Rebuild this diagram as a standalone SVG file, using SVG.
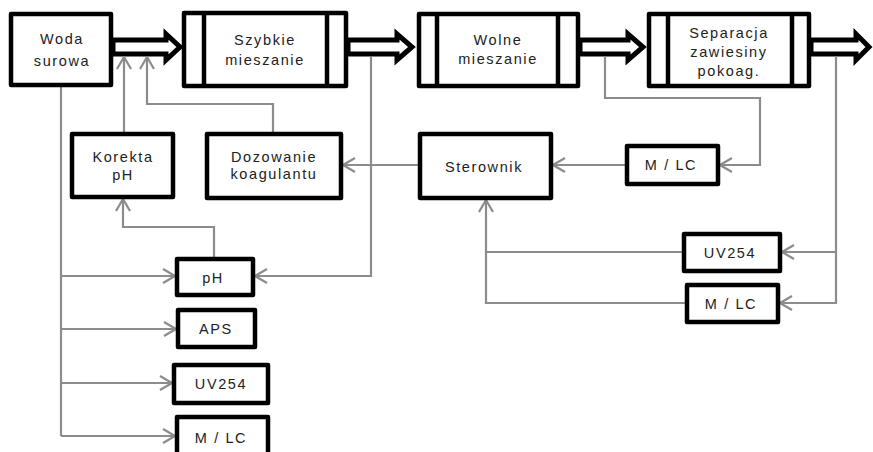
<svg xmlns="http://www.w3.org/2000/svg" width="873" height="452" viewBox="0 0 873 452">
<style>
.box{fill:#fff;stroke:#000;stroke-width:4.5;stroke-linejoin:round}
.bar{stroke:#000;stroke-width:4.5}
.big{fill:#fff;stroke:#000;stroke-width:5;stroke-linejoin:miter;stroke-miterlimit:10}
.t{font-family:"Liberation Sans",Arial,sans-serif;font-size:14.5px;letter-spacing:1.6px;fill:#222;text-anchor:middle}
.c{fill:none;stroke:#8c8c8c;stroke-width:2.2}
</style>
<defs>
<marker id="ah" viewBox="0 0 14 16" refX="13" refY="8" markerWidth="14" markerHeight="16" markerUnits="userSpaceOnUse" orient="auto">
<path d="M1,1 L13,8 L1,15" fill="none" stroke="#8c8c8c" stroke-width="2.2"/>
</marker>
</defs>
<rect width="873" height="452" fill="#fff"/>

<g id="main-arrows">
<polygon class="big" points="113,40 166,40 166,34 180,47 166,60 166,54 113,54"/>
<polygon class="big" points="348,40 397,40 397,34 412,47 397,60 397,54 348,54"/>
<polygon class="big" points="580,40 628,40 628,34 643,47 628,60 628,54 580,54"/>
<polygon class="big" points="811,40 856,40 856,34 869,47 856,60 856,54 811,54"/>
</g>

<g id="connectors">
<path class="c" d="M61,87 V436"/>
<path class="c" d="M61,276 H175" marker-end="url(#ah)"/>
<path class="c" d="M61,329 H176" marker-end="url(#ah)"/>
<path class="c" d="M61,383 H172" marker-end="url(#ah)"/>
<path class="c" d="M61,436 H175" marker-end="url(#ah)"/>
<path class="c" d="M124,132 V57" marker-end="url(#ah)"/>
<path class="c" d="M273,132 V104 H147 V57" marker-end="url(#ah)"/>
<path class="c" d="M214,257 V227 H123 V199" marker-end="url(#ah)"/>
<path class="c" d="M371,57 V276 H255" marker-end="url(#ah)"/>
<path class="c" d="M418,165 H343" marker-end="url(#ah)"/>
<path class="c" d="M625,165 H553" marker-end="url(#ah)"/>
<path class="c" d="M605,56 V98 H760 V165 H720" marker-end="url(#ah)"/>
<path class="c" d="M836,56 V303 H780" marker-end="url(#ah)"/>
<path class="c" d="M836,252 H782" marker-end="url(#ah)"/>
<path class="c" d="M682,252 H486"/>
<path class="c" d="M685,303 H486 V200" marker-end="url(#ah)"/>
</g>

<g id="woda">
<rect class="box" x="11" y="14" width="100" height="71"/>
<text class="t" x="62" y="44">Woda</text>
<text class="t" x="62" y="66">surowa</text>
</g>
<g id="szybkie">
<rect class="box" x="184" y="13" width="162" height="73"/>
<line class="bar" x1="204" y1="13" x2="204" y2="86"/>
<line class="bar" x1="327" y1="13" x2="327" y2="86"/>
<text class="t" x="265" y="45">Szybkie</text>
<text class="t" x="265" y="65">mieszanie</text>
</g>
<g id="wolne">
<rect class="box" x="419" y="14" width="159" height="72"/>
<line class="bar" x1="437" y1="14" x2="437" y2="86"/>
<line class="bar" x1="558" y1="14" x2="558" y2="86"/>
<text class="t" x="498" y="45">Wolne</text>
<text class="t" x="498" y="64">mieszanie</text>
</g>
<g id="separacja">
<rect class="box" x="649" y="14" width="160" height="72"/>
<line class="bar" x1="668" y1="14" x2="668" y2="86"/>
<line class="bar" x1="792" y1="14" x2="792" y2="86"/>
<text class="t" x="729" y="38">Separacja</text>
<text class="t" x="729" y="57">zawiesiny</text>
<text class="t" x="729" y="76">pokoag.</text>
</g>
<g id="korekta">
<rect class="box" x="72" y="134" width="101" height="63"/>
<text class="t" x="123" y="162">Korekta</text>
<text class="t" x="123" y="180">pH</text>
</g>
<g id="dozowanie">
<rect class="box" x="207" y="134" width="134" height="64"/>
<text class="t" x="274" y="162">Dozowanie</text>
<text class="t" x="274" y="179">koagulantu</text>
</g>
<g id="sterownik">
<rect class="box" x="420" y="134" width="131" height="64"/>
<text class="t" x="484" y="172">Sterownik</text>
</g>
<g id="mlc1">
<rect class="box" x="627" y="146" width="91" height="38"/>
<text class="t" x="671" y="170">M / LC</text>
</g>
<g id="uv-right">
<rect class="box" x="684" y="234" width="96" height="37"/>
<text class="t" x="730" y="258">UV254</text>
</g>
<g id="mlc-right">
<rect class="box" x="687" y="285" width="91" height="37"/>
<text class="t" x="731" y="309">M / LC</text>
</g>
<g id="ph">
<rect class="box" x="177" y="259" width="76" height="36"/>
<text class="t" x="213" y="283">pH</text>
</g>
<g id="aps">
<rect class="box" x="178" y="310" width="77" height="37"/>
<text class="t" x="216" y="334">APS</text>
</g>
<g id="uv-left">
<rect class="box" x="174" y="365" width="94" height="38"/>
<text class="t" x="221" y="389">UV254</text>
</g>
<g id="mlc-left">
<rect class="box" x="177" y="417" width="91" height="40"/>
<text class="t" x="221" y="443">M / LC</text>
</g>
</svg>
